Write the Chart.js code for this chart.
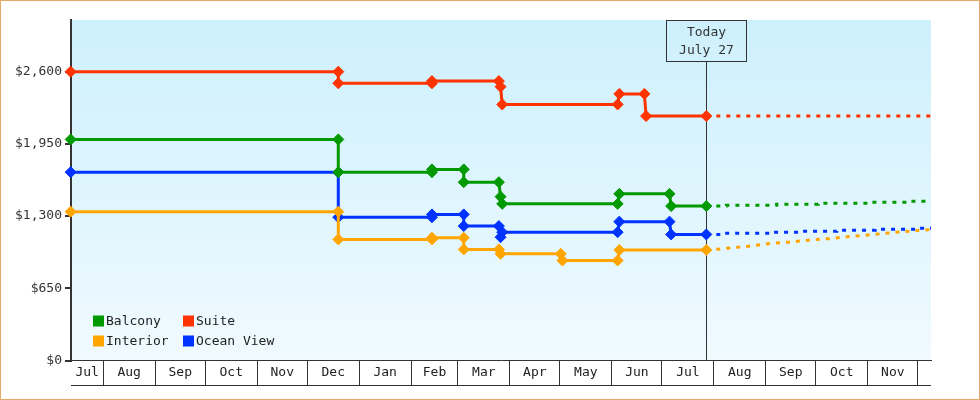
<!DOCTYPE html>
<html>
<head>
<meta charset="utf-8">
<title>Cabin prices</title>
<script src="https://cdn.jsdelivr.net/npm/chart.js@4.4.1/dist/chart.umd.min.js"></script>
<style>
  html, body { margin: 0; padding: 0; background: #fff; }
  #wrap { width: 980px; height: 400px; box-sizing: border-box; border: 1px solid #e6aa66; }
  canvas { display: block; }
</style>
</head>
<body>
<div id="wrap"><canvas id="chart" width="978" height="398"></canvas></div>
<script>
// Axis range and ticks
const xMin = "2022-07-12T17:00:00Z";
const xMax = "2023-12-08T20:00:00Z";
const today = "2023-07-27";
const todayText = ["Today", "July 27"];
const yTicks = [0, 650, 1300, 1950, 2600];
const yMax = 3065;

const monthStarts = ["2022-08-01", "2022-09-01", "2022-10-01", "2022-11-01", "2022-12-01",
    "2023-01-01", "2023-02-01", "2023-03-01", "2023-04-01", "2023-05-01", "2023-06-01",
    "2023-07-01", "2023-08-01", "2023-09-01", "2023-10-01", "2023-11-01", "2023-12-01"];
const monthLabels = ["Jul", "Aug", "Sep", "Oct", "Nov", "Dec", "Jan", "Feb", "Mar",
    "Apr", "May", "Jun", "Jul", "Aug", "Sep", "Oct", "Nov"];

// Price history
const balconyDates = ["2022-07-12", "2022-12-19", "2022-12-19", "2023-02-13", "2023-02-13",
    "2023-03-04", "2023-03-04", "2023-03-25", "2023-03-26", "2023-03-27", "2023-06-04",
    "2023-06-05", "2023-07-05", "2023-07-06", "2023-07-27"];
const balconyPrices = [1990, 1990, 1695, 1695, 1720, 1720, 1605, 1605, 1475, 1410, 1410,
    1500, 1500, 1390, 1390];

const suiteDates = ["2022-07-12", "2022-12-19", "2022-12-19", "2023-02-13", "2023-02-13",
    "2023-03-25", "2023-03-26", "2023-03-27", "2023-06-04", "2023-06-05", "2023-06-20",
    "2023-06-21", "2023-07-27"];
const suitePrices = [2600, 2600, 2495, 2495, 2515, 2515, 2465, 2305, 2305, 2400, 2400,
    2200, 2200];

const interiorDates = ["2022-07-12", "2022-12-19", "2022-12-19", "2023-02-13", "2023-02-13",
    "2023-03-04", "2023-03-04", "2023-03-25", "2023-03-26", "2023-05-01", "2023-05-02",
    "2023-06-04", "2023-06-05", "2023-07-27"];
const interiorPrices = [1340, 1340, 1090, 1090, 1105, 1105, 1000, 1000, 960, 960, 900,
    900, 995, 995];

const oceanDates = ["2022-07-12", "2022-12-19", "2022-12-19", "2023-02-13", "2023-02-13",
    "2023-03-04", "2023-03-04", "2023-03-25", "2023-03-26", "2023-03-27", "2023-06-04",
    "2023-06-05", "2023-07-05", "2023-07-06", "2023-07-27"];
const oceanPrices = [1695, 1695, 1290, 1290, 1315, 1315, 1210, 1210, 1110, 1155, 1155,
    1250, 1250, 1135, 1135];

// Forecast (dashed)
const balconyForecastDates = ["2023-07-27", "2023-08-08", "2023-09-07", "2023-10-02",
    "2023-11-01", "2023-11-25", "2023-12-09"];
const balconyForecast = [1390, 1398, 1407, 1416, 1425, 1434, 1434];

const suiteForecastDates = ["2023-07-27", "2023-12-09"];
const suiteForecast = [2200, 2200];

const interiorForecastDates = ["2023-07-27", "2023-08-03", "2023-08-21", "2023-09-02",
    "2023-09-14", "2023-09-26", "2023-10-08", "2023-10-20", "2023-11-01", "2023-11-13",
    "2023-11-25", "2023-12-09"];
const interiorForecast = [995, 1002, 1029, 1052, 1065, 1083, 1097, 1115, 1130, 1148, 1164, 1180];

const oceanForecastDates = ["2023-07-27", "2023-08-06", "2023-09-04", "2023-09-21",
    "2023-10-13", "2023-11-05", "2023-11-30", "2023-12-09"];
const oceanForecast = [1135, 1145, 1155, 1164, 1173, 1182, 1191, 1191];

const GREEN = "#009900", RED = "#ff3300", ORANGE = "#ffa500", BLUE = "#0033ff";
const FONT = "'DejaVu Sans Mono', monospace";

function noon(s) { return Date.parse(s + "T12:00:00Z"); }
function midnight(s) { return Date.parse(s + "T00:00:00Z"); }
function pts(dates, values) {
    return dates.map((d, i) => ({ x: noon(d), y: values[i] }));
}

function history(label, color, dates, values) {
    return {
        label: label, data: pts(dates, values), inLegend: true,
        borderColor: color, backgroundColor: color, borderWidth: 3,
        pointStyle: "rectRot", pointRadius: 5.5, pointBorderWidth: 1,
        tension: 0, clip: false
    };
}
function forecast(label, color, dates, values, stepped) {
    return {
        label: label, data: pts(dates, values),
        borderColor: color, borderWidth: 3, borderDash: [4, 6],
        pointRadius: 0, stepped: stepped, tension: 0
    };
}

// month boundaries (grid) + centred month names
const xTicks = [];
monthStarts.forEach((m, i) => {
    const start = i === 0 ? Date.parse(xMin) : midnight(monthStarts[i - 1]);
    const end = midnight(m);
    xTicks.push({ value: (start + end) / 2, text: monthLabels[i] });
    xTicks.push({ value: end, boundary: true });
});

const decor = {
    id: "decor",
    beforeDraw(chart) {
        const { ctx, chartArea: a } = chart;
        const g = ctx.createLinearGradient(0, a.top, 0, a.bottom);
        g.addColorStop(0, "#cdf0fc");
        g.addColorStop(1, "#f0faff");
        ctx.save();
        ctx.fillStyle = g;
        ctx.fillRect(a.left, a.top, a.right - a.left, a.bottom - a.top);
        ctx.restore();
    },
    beforeDatasetsDraw(chart) {
        const { ctx, chartArea: a } = chart;
        const x = Math.round(chart.scales.x.getPixelForValue(noon(today))) + 0.5;
        const boxW = 80, boxH = 41;
        ctx.save();
        ctx.strokeStyle = "#333";
        ctx.lineWidth = 1;
        ctx.strokeRect(x - boxW / 2, a.top + 0.5, boxW, boxH);
        ctx.beginPath();
        ctx.moveTo(x, a.top + 0.5 + boxH);
        ctx.lineTo(x, a.bottom);
        ctx.stroke();
        ctx.fillStyle = "#333";
        ctx.font = "13px " + FONT;
        ctx.textAlign = "center";
        ctx.textBaseline = "middle";
        ctx.fillText(todayText[0], x, a.top + 13);
        ctx.fillText(todayText[1], x, a.top + 31);
        ctx.restore();
    },
    afterDatasetsDraw(chart) {
        // two-column legend, filled column by column
        const { ctx, chartArea: a } = chart;
        const items = chart.data.datasets.filter(d => d.inLegend);
        ctx.save();
        ctx.font = "13px " + FONT;
        ctx.textBaseline = "middle";
        ctx.textAlign = "left";
        items.forEach((d, i) => {
            const x = a.left + 22 + Math.floor(i / 2) * 90;
            const y = a.bottom - 45 + (i % 2) * 20;
            ctx.fillStyle = d.borderColor;
            ctx.fillRect(x, y, 11, 11);
            ctx.fillStyle = "#222";
            ctx.fillText(d.label, x + 13, y + 6);
        });
        ctx.restore();
    },
    afterDraw(chart) {
        const { ctx, chartArea: a } = chart;
        ctx.save();
        ctx.strokeStyle = "#333";
        ctx.lineWidth = 1;
        ctx.beginPath();
        ctx.moveTo(a.left, 384.5);
        ctx.lineTo(a.right, 384.5);
        ctx.stroke();
        ctx.restore();
    }
};

Chart.defaults.font.family = FONT;
Chart.defaults.font.size = 13;

new Chart(document.getElementById("chart"), {
    type: "line",
    data: {
        datasets: [
            history("Balcony", GREEN, balconyDates, balconyPrices),
            history("Interior", ORANGE, interiorDates, interiorPrices),
            history("Suite", RED, suiteDates, suitePrices),
            history("Ocean View", BLUE, oceanDates, oceanPrices),
            forecast("Balcony forecast", GREEN, balconyForecastDates, balconyForecast, true),
            forecast("Interior forecast", ORANGE, interiorForecastDates, interiorForecast, false),
            forecast("Suite forecast", RED, suiteForecastDates, suiteForecast, true),
            forecast("Ocean View forecast", BLUE, oceanForecastDates, oceanForecast, true)
        ]
    },
    options: {
        responsive: false,
        animation: false,
        events: [],
        layout: { padding: { top: 19, right: 48, left: 0, bottom: 0 } },
        plugins: { legend: { display: false }, tooltip: { enabled: false } },
        scales: {
            x: {
                type: "linear",
                min: Date.parse(xMin),
                max: Date.parse(xMax),
                afterBuildTicks: s => { s.ticks = xTicks.map(t => Object.assign({}, t)); },
                afterFit: s => { s.height = 38.5; },
                ticks: {
                    autoSkip: false, maxRotation: 0, padding: -21, color: "#222",
                    callback: (v, i, ticks) => ticks[i].text || ""
                },
                grid: {
                    drawOnChartArea: false, tickLength: 25, lineWidth: 1,
                    color: c => (c.tick && c.tick.boundary) ? "#333" : "rgba(0,0,0,0)"
                },
                border: { color: "#333", width: 1 }
            },
            y: {
                min: 0,
                max: yMax,
                afterBuildTicks: s => { s.ticks = yTicks.map(v => ({ value: v })); },
                afterFit: s => { s.width = 70; },
                ticks: {
                    padding: 3, color: "#333",
                    callback: v => "$" + v.toLocaleString("en-US")
                },
                grid: { drawOnChartArea: false, tickLength: 6, lineWidth: 2, color: "#333" },
                border: { color: "#333", width: 2 }
            }
        }
    },
    plugins: [decor]
});
</script>
</body>
</html>
